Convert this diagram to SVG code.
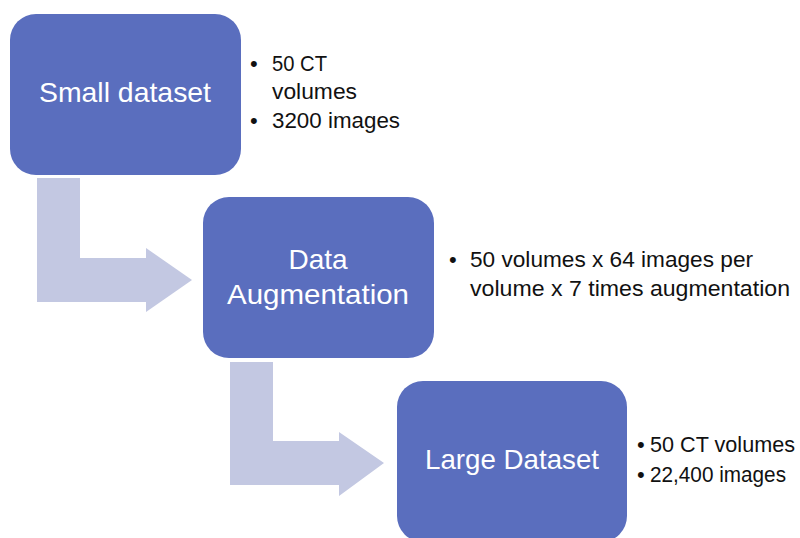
<svg xmlns="http://www.w3.org/2000/svg" width="800" height="538" viewBox="0 0 800 538">
  <style>
    .box { fill: #5A6EBE; }
    .flow { fill: #C3C8E2; }
    .title { font-family: "Liberation Sans", Arial, sans-serif; font-size: 28px; fill: #FFFFFF; text-anchor: middle; }
    .note { font-family: "Liberation Sans", Arial, sans-serif; font-size: 22px; fill: #111111; }
  </style>
  <rect width="800" height="538" fill="#FFFFFF"/>

  <!-- bent block arrows between the stages -->
  <g id="connectors">
    <polygon class="flow" points="37,178 80,178 80,258 146,258 146,248 192,280 146,312 146,302 37,302"/>
    <polygon class="flow" points="230,362 273,362 273,441 339,441 339,432 384,463 339,496 339,485 230,485"/>
  </g>

  <g id="small-dataset">
    <rect class="box" x="10" y="14" width="231" height="161" rx="26"/>
    <text class="title" x="125" y="102" textLength="172" lengthAdjust="spacingAndGlyphs">Small dataset</text>
  </g>

  <g id="small-dataset-notes">
    <text class="note" x="250" y="71">•</text>
    <text class="note" x="272" y="71" textLength="55" lengthAdjust="spacingAndGlyphs">50 CT</text>
    <text class="note" x="272" y="99" textLength="85" lengthAdjust="spacingAndGlyphs">volumes</text>
    <text class="note" x="250" y="128">•</text>
    <text class="note" x="272" y="128" textLength="128" lengthAdjust="spacingAndGlyphs">3200 images</text>
  </g>

  <g id="data-augmentation">
    <rect class="box" x="203" y="197" width="231" height="161" rx="26"/>
    <text class="title" x="318" y="269">Data</text>
    <text class="title" x="318" y="304" textLength="182" lengthAdjust="spacingAndGlyphs">Augmentation</text>
  </g>

  <g id="augmentation-notes">
    <text class="note" x="449" y="267">•</text>
    <text class="note" x="470" y="267" textLength="283" lengthAdjust="spacingAndGlyphs">50 volumes x 64 images per</text>
    <text class="note" x="470" y="296" textLength="320" lengthAdjust="spacingAndGlyphs">volume x 7 times augmentation</text>
  </g>

  <g id="large-dataset">
    <rect class="box" x="397" y="381" width="230" height="161" rx="26"/>
    <text class="title" x="512" y="469" textLength="174" lengthAdjust="spacingAndGlyphs">Large Dataset</text>
  </g>

  <g id="large-dataset-notes">
    <text class="note" x="637" y="452">•</text>
    <text class="note" x="650" y="452" textLength="145" lengthAdjust="spacingAndGlyphs">50 CT volumes</text>
    <text class="note" x="637" y="482">•</text>
    <text class="note" x="650" y="482" textLength="136" lengthAdjust="spacingAndGlyphs">22,400 images</text>
  </g>
</svg>
